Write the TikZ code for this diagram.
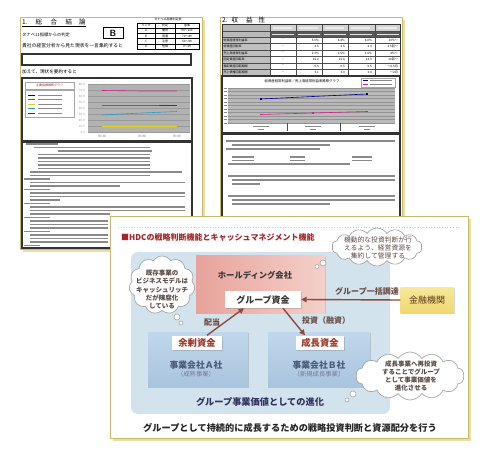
\documentclass[tikz,border=0pt]{standalone}
\usepackage{fontspec}
\newfontfamily\jp{Noto Sans CJK JP}
\usetikzlibrary{shapes.symbols,arrows.meta,shadows}
\definecolor{pageedge}{HTML}{C9B96E}
\definecolor{pshadow}{HTML}{EAE0A6}
\definecolor{hdcred}{HTML}{A3262A}
\definecolor{arrowc}{HTML}{8E4A3F}
\definecolor{bluebg}{HTML}{D3E3ED}
\definecolor{boxtop}{HTML}{C0D7EB}
\definecolor{boxbot}{HTML}{A9C4DE}
\definecolor{pinkL}{HTML}{E7A39B}
\definecolor{pinkR}{HTML}{F4D0CA}
\definecolor{bankY}{HTML}{F7E99A}
\definecolor{bankY2}{HTML}{F0D870}
\definecolor{fundc}{HTML}{9A3A2A}
\definecolor{compc}{HTML}{4A5A78}
\definecolor{subc}{HTML}{6E7E94}
\definecolor{labc}{HTML}{6A4C44}
\definecolor{cloudt}{HTML}{5A4A45}
\definecolor{txtbar}{HTML}{8A8A8A}
\begin{document}
\begin{tikzpicture}[x=1pt,y=-1pt,
  tiny/.style={font=\jp\fontsize{3}{3.4}\selectfont, inner sep=0},
  small/.style={font=\jp\fontsize{4.5}{5}\selectfont, inner sep=0, anchor=west},
  bar/.style={txtbar, line width=1.1},
  frame/.style={draw=black!80, line width=1.1},
  thought/.style={cloud, cloud puffs=13, cloud puff arc=115, cloud ignores aspect,
     draw=gray!70, fill=white, line width=0.7, inner sep=0},
  bubble/.style={circle, draw=gray!70, fill=white, line width=0.6, inner sep=0},
  cloudtxt/.style={text=cloudt, align=center, inner sep=0},
  arr/.style={draw=arrowc, line width=1.4, -{Triangle[length=5.5pt,width=5.5pt]}},
  whitebox/.style={fill=white, inner sep=0, drop shadow={shadow xshift=1pt, shadow yshift=-1pt, opacity=0.35}},
  bluebox/.style={top color=boxtop, bottom color=boxbot, inner sep=0,
     drop shadow={shadow xshift=1.2pt, shadow yshift=-1.2pt, opacity=0.35}},
  lab/.style={text=labc, font=\jp\bfseries\fontsize{8}{9}\selectfont, inner sep=0}
]
\useasboundingbox (0,0) rectangle (490,457);

%================ LEFT PAGE =================
\fill[pshadow] (23,20) rectangle (205,252);
\filldraw[fill=white, draw=pageedge, line width=0.8] (20,17) rectangle (202,249);
\node[anchor=west, font=\jp\fontsize{6.5}{7}\selectfont, inner sep=0] (lh) at (22,22)
  {1.\hspace{8pt}総\hspace{8.5pt}合\hspace{8.5pt}結\hspace{7pt}論};
\draw[line width=0.4] ([yshift=-1pt]lh.south west) -- ([yshift=-1pt]lh.south east);
% judgement table
\node[tiny] (ltt) at (168,19.5) {タナベ11指標判定表};
\draw[line width=0.6] (137,23) rectangle (199,49);
\foreach \y in {28,33.3,38.6,43.9} \draw[line width=0.4] (137,\y) -- (199,\y);
\foreach \x in {155,175} \draw[line width=0.4] (\x,23) -- (\x,49);
\foreach \y/\a/\b/\c [count=\i] in {25.5/ランク/判定/基準, 30.7/A/優秀/90〜100, 36/B/普通/70〜89, 41.3/C/注意/50〜69, 46.5/D/危険/0〜49}{
  \node[tiny] (lta\i) at (146,\y) {\a};
  \node[tiny] (ltb\i) at (165,\y) {\b};
  \node[tiny] (ltc\i) at (187,\y) {\c};
}
\node[small, font=\jp\fontsize{4.3}{5}\selectfont] (l1) at (22,34.5) {タナベ11指標からの判定};
\node[draw, line width=1, minimum width=20pt, minimum height=11pt, inner sep=0,
      font=\sffamily\bfseries\fontsize{9}{9}\selectfont] (bb) at (113,33.5) {B};
\node[small, font=\jp\fontsize{4.8}{5}\selectfont] (l2) at (22,46) {貴社の経営分析から見た現状を一言集約すると};
\draw[frame] (22,54) rectangle (191,65);
\node[small, font=\jp\fontsize{4.6}{5}\selectfont] (l3) at (22,72) {加えて、現状を要約すると};
% chart
\draw[frame] (22,78) rectangle (192,141);
\draw[gray!70, line width=0.4] (25,82) rectangle (74,89);
\node[tiny, text=hdcred] (lct) at (49.5,85.5) {主要指標推移グラフ};
\draw[gray!70, line width=0.4] (25,90) rectangle (74,117);
\foreach \y/\c in {95/blue!60!black, 99.5/magenta!80!black, 104/yellow!85!black, 108.5/cyan!80!black, 113/violet}{
  \draw[\c, line width=0.6] (28,\y) -- (35,\y);
  \draw[txtbar, line width=0.9] (38,\y) -- (62,\y);
}
\fill[gray!60] (88,84) rectangle (190,132);
\foreach \v [count=\i from 0] in {80.0,70.0,60.0,50.0,40.0,30.0,20.0,10.0,0.0}{
  \node[tiny, text=gray!80, anchor=east] (ly\i) at (85,84+6*\i) {\v};
  \draw[gray!80, line width=0.3] (88,84+6*\i) -- (190,84+6*\i);
}
\draw[magenta!85!black, line width=0.6] (102,90.5) -- (142,91) -- (177,91);
\draw[violet!80!magenta, line width=0.6] (102,105) -- (142,105) -- (177,105);
\draw[cyan!80!black, line width=0.6] (102,115) -- (142,113) -- (177,111.5);
\draw[yellow!85!black, line width=0.6] (102,126.5) -- (142,126.5) -- (177,126.5);
\foreach \x [count=\i] in {102,142,177}{
  \node[tiny, text=gray!80] (lx\i) at (\x,136) {第\i 期};
}
% text frame
\draw[frame] (22,142) rectangle (192,248);
\foreach \y/\a/\b in {144/26/58, 147.5/34/150, 151/58/152, 154.5/38/150, 158/38/150, 161.5/38/150,
  165/38/150, 168.5/38/150, 172/30/182, 175.5/30/150, 179/24/50, 182.5/30/185, 186/30/120,
  189.5/24/50, 193/30/185, 196.5/30/185, 200/30/60, 203.5/24/50, 207/30/185, 210.5/30/185,
  214/30/110, 217.5/24/50, 221/30/108, 224.5/30/108, 228/30/108, 231.5/24/50, 235/30/108,
  238.5/30/108, 242/30/108, 245.5/24/40}
  \draw[bar] (\a,\y) -- (\b,\y);

%================ RIGHT PAGE =================
\fill[pshadow] (223,20) rectangle (405,300);
\filldraw[fill=white, draw=pageedge, line width=0.8] (220,17) rectangle (402,298);
\node[anchor=west, font=\jp\fontsize{6.5}{7}\selectfont, inner sep=0] (rh) at (222,20.5)
  {2.\hspace{4pt}収\hspace{8pt}益\hspace{6pt}性};
% table
\fill[gray!55] (222,25) rectangle (270,37);
\fill[gray!35] (270,25) rectangle (400,31);
\fill[black!65] (270,31) rectangle (400,37);
\fill[gray!50] (222,37) rectangle (270,76);
\foreach \x in {270,296,322,348,375}{
  \fill[gray!15] (\x+3,26.6) rectangle (\x+22,29.4);
  \draw[white!80!gray, line width=0.6] (\x+2,34) -- (\x+24,34);
}
\foreach \x in {270,296,322,348,375} \draw[line width=0.4, black!70] (\x,25) -- (\x,76);
\foreach \y in {31,37,43.5,50,56.5,63,69.5} \draw[line width=0.4, black!70] (222,\y) -- (400,\y);
\draw[line width=1, black!80] (222,25) rectangle (400,76);
\foreach \y/\l/\a/\b/\c/\d [count=\i] in {
  40.25/総資産経常利益率/5.0\%/6.4\%/6.0\%/10\%〜,
  46.75/総資産回転率/2.5/2.6/2.4/2.5回〜,
  53.25/売上高経常利益率/2.3\%/2.5\%/2.0\%/4\%〜,
  59.75/固定資産回転率/15.2/15.6/14.3/10回〜,
  66.25/棚卸資産回転期間/0.5/0.5/0.5/〜0.5月,
  72.75/売上債権回転期間/3.1/3.0/3.0/〜2月}{
  \node[tiny, anchor=west] (rl\i) at (223.5,\y) {\l};
  \node[tiny] (rm\i) at (283,\y) {−};
  \node[tiny, anchor=east] (ra\i) at (319,\y) {\a};
  \node[tiny, anchor=east] (rb\i) at (345,\y) {\b};
  \node[tiny, anchor=east] (rc\i) at (372,\y) {\c};
  \node[tiny, anchor=east] (rd\i) at (398,\y) {\d};
}
% chart
\draw[frame] (222,76) rectangle (400,133);
\node[tiny, font=\jp\fontsize{3.4}{4}\selectfont] (rct) at (302,81.5) {総資産経常利益率／売上高経常利益率推移グラフ};
\draw[gray!70, line width=0.4] (361,78.5) rectangle (395,87);
\draw[blue!60!black, line width=0.6] (363,80.8) -- (368,80.8);
\draw[magenta!85!black, line width=0.6] (363,84.6) -- (368,84.6);
\draw[txtbar, line width=0.8] (370,80.8) -- (392,80.8);
\draw[txtbar, line width=0.8] (370,84.6) -- (392,84.6);
\fill[gray!55] (228,88) rectangle (395,123);
\foreach \i in {0,...,10}{
  \draw[gray!85, line width=0.3] (228,88+3.5*\i) -- (395,88+3.5*\i);
  \draw[txtbar, line width=0.6] (223.5,88+3.5*\i) -- (226.5,88+3.5*\i);
}
\draw[blue!55!black, line width=0.6] (261,99) -- (313,96.5) -- (367,94);
\draw[magenta!85!black, line width=0.6] (261,114.5) -- (313,113) -- (367,111.5);
\foreach \x/\y in {261/99,313/96.5,367/94} \fill[blue!55!black] (\x-0.8,\y-0.8) rectangle (\x+0.8,\y+0.8);
\foreach \x/\y in {261/114.5,313/113,367/111.5} \fill[magenta!85!black] (\x-0.8,\y-0.8) rectangle (\x+0.8,\y+0.8);
\foreach \x in {287,340} \draw[black!70, line width=0.4] (\x,123) -- (\x,131);
\foreach \x in {261,313,367}{
  \draw[txtbar, line width=0.6] (\x-8,126) -- (\x+8,126);
  \draw[txtbar, line width=0.7] (\x-3,129) -- (\x+3,129);
}
% text frame
\draw[frame] (222,134) rectangle (400,297);
\foreach \y/\a/\b in {141/226/395, 145/232/330, 149/226/320, 164/228/350, 176/228/395,
  180/232/395, 184/232/260, 196/228/395, 200/232/395, 204/232/330}
  \draw[bar] (\a,\y) -- (\b,\y);
\foreach \y in {157,160.5}{
  \draw[bar] (232,\y) -- (254,\y);
  \draw[bar] (290,\y) -- (305,\y);
  \draw[bar] (352,\y) -- (372,\y);
}

%================ FOREGROUND PANEL =================
\fill[pshadow] (113,219) rectangle (471,441);
\filldraw[fill=white, draw=pageedge, line width=0.8] (110,216) rectangle (468,438);
\draw[gray!45, dotted, line width=0.7] (118,227.5) -- (460,227.5);
\node[anchor=west, text=hdcred, font=\jp\bfseries\fontsize{8}{9}\selectfont, inner sep=0] (title)
  at (121,237) {■HDCの戦略判断機能とキャッシュマネジメント機能};

% group value background
\node[fill=bluebg, rounded corners=7pt, minimum width=259pt, minimum height=162pt, inner sep=0]
  (gv) at (260.5,333) {};
% holding company
\node[left color=pinkL, right color=pinkR, minimum width=129pt, minimum height=57pt, inner sep=0,
  drop shadow={shadow xshift=1.2pt, shadow yshift=-1.2pt, opacity=0.3}] (hold) at (260.5,284.5) {};
\node[text=black!78, font=\jp\bfseries\fontsize{8.3}{9}\selectfont, inner sep=0] (holdt) at (255,275) {ホールディング会社};
\node[whitebox, minimum width=76pt, minimum height=17pt, text=black!78,
  font=\jp\bfseries\fontsize{9}{9}\selectfont] (grp) at (263,299.5) {グループ資金};

% bank
\node[top color=bankY, bottom color=bankY2, minimum width=53pt, minimum height=26pt, inner sep=0,
  text=labc!70!orange!60!black, font=\jp\fontsize{9}{9}\selectfont,
  drop shadow={shadow xshift=1.2pt, shadow yshift=-1.2pt, opacity=0.3}] (bank) at (427,300) {金融機関};

% companies
\node[bluebox, minimum width=100pt, minimum height=55pt] (coA) at (198,359.5) {};
\node[bluebox, minimum width=102pt, minimum height=55pt] (coB) at (319,359.5) {};
\node[whitebox, minimum width=50pt, minimum height=14pt, text=fundc,
  font=\jp\bfseries\fontsize{9.3}{9}\selectfont] (yjs) at (197,342.5) {余剰資金};
\node[whitebox, minimum width=48pt, minimum height=14pt, text=fundc,
  font=\jp\bfseries\fontsize{9.3}{9}\selectfont] (sch) at (320,342.5) {成長資金};
\node[text=compc, font=\jp\bfseries\fontsize{8.8}{9}\selectfont, inner sep=0] (coAt) at (196,365) {事業会社Ａ社};
\node[text=subc, font=\jp\fontsize{6.3}{7}\selectfont, inner sep=0] (coAs) at (196,374.5) {（成熟事業）};
\node[text=compc, font=\jp\bfseries\fontsize{8.8}{9}\selectfont, inner sep=0] (coBt) at (319,365) {事業会社Ｂ社};
\node[text=subc, font=\jp\fontsize{6.3}{7}\selectfont, inner sep=0] (coBs) at (319,374.5) {〔新規成長事業〕};

\node[text=black!70!blue!60!gray, font=\jp\bfseries\fontsize{9.2}{9}\selectfont, inner sep=0] (evo)
  at (260,402) {グループ事業価値としての進化};
\node[text=black!85, font=\jp\bfseries\fontsize{9.2}{9}\selectfont, inner sep=0] (bottom)
  at (290,428) {グループとして持続的に成長するための戦略投資判断と資源配分を行う};

% connectors
\draw[arr] (bank.west) -- (grp.east);
\node[lab] (lchot) at (367,291) {グループ一括調達};
\draw[arr] ([xshift=10pt]yjs.north) -- ([xshift=-19pt]grp.south);
\node[lab] (lhaito) at (212,322) {配当};
\draw[arr] ([xshift=20pt]grp.south) -- ([xshift=-15pt]sch.north);
\node[lab] (ltoshi) at (326,320.5) {投資（融資）};

% thought clouds
\node[thought, cloud puffs=11, minimum width=66pt, minimum height=58pt] (c1) at (162,285) {};
\node[bubble, minimum size=6pt] (c1b1) at (177,317) {};
\node[bubble, minimum size=4pt] (c1b2) at (181,323) {};
\node[cloudtxt, font=\jp\bfseries\fontsize{6.5}{8.4}\selectfont] (c1t) at (162,289.5)
  {既存事業の\\ビジネスモデルは\\キャッシュリッチ\\だが陳腐化\\している};

\node[thought, cloud puffs=14, minimum width=90pt, minimum height=38pt] (c2) at (377,247) {};
\node[bubble, minimum size=6pt] (c2b1) at (323,263) {};
\node[bubble, minimum size=4pt] (c2b2) at (317,266.5) {};
\node[cloudtxt, font=\jp\fontsize{6.8}{8}\selectfont] (c2t) at (378,248)
  {機動的な投資判断が行\\えるよう、経営資源を\\集約して管理する};

\node[thought, cloud puffs=14, minimum width=108pt, minimum height=48pt] (c3) at (410,376) {};
\node[bubble, minimum size=6pt] (c3b1) at (353,394) {};
\node[bubble, minimum size=4pt] (c3b2) at (347,400) {};
\node[cloudtxt, font=\jp\bfseries\fontsize{6.5}{8.3}\selectfont] (c3t) at (411,376)
  {成長事業へ再投資\\することでグループ\\として事業価値を\\進化させる};
\end{tikzpicture}
\end{document}
